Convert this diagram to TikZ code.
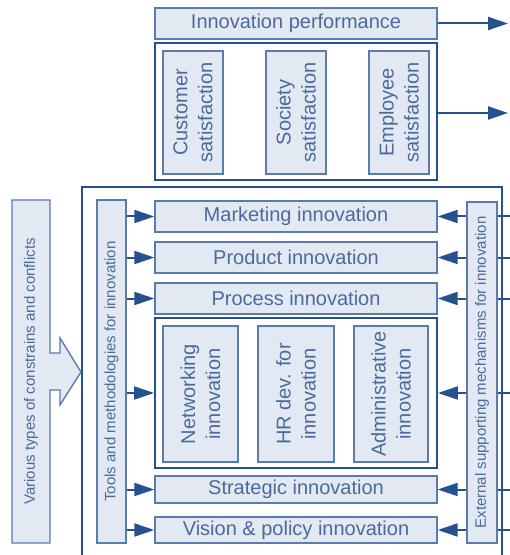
\documentclass[tikz,border=0pt]{standalone}
\usepackage{fontspec}
\setmainfont{Liberation Sans}
\usetikzlibrary{arrows.meta}
\definecolor{boxfill}{HTML}{E3E9F2}
\definecolor{boxline}{HTML}{5A7BAC}
\definecolor{boxtext}{HTML}{4A6A9B}
\definecolor{darkblue}{HTML}{23528F}
\tikzset{
    box/.style={draw=boxline, line width=0.7pt, fill=boxfill, text=boxtext, inner sep=0pt, font=\fontsize{10}{12.5}\selectfont},
    wide/.style={box, minimum width=141pt, minimum height=15.5pt},
    tall/.style={box, rotate=90, align=center, minimum width=61.5pt, minimum height=30pt},
    side/.style={box, rotate=90, font=\fontsize{7.5}{9}\selectfont},
    group/.style={draw=darkblue, line width=0.9pt, inner sep=0pt, minimum width=141pt},
    arrow/.style={-{Triangle[length=10pt,width=6.5pt]}, line width=1pt, darkblue},
    frame/.style={line width=1pt, darkblue}
}
\begin{document}
\begin{tikzpicture}[x=0.5pt, y=-0.5pt]
\useasboundingbox (0,0) rectangle (509,555);

% Performance part
\node[wide] (perf) at (296,23.5) {Innovation performance};
\node[group, minimum height=68.5pt] (satbox) at (296,111.5) {};
\node[tall] (cust) at (193,112.5) {Customer\\satisfaction};
\node[tall] (soc) at (296,112.5) {Society\\satisfaction};
\node[tall] (emp) at (399,112.5) {Employee\\satisfaction};
\coordinate (perfout) at (508,23.5);
\coordinate (satout) at (508,113);
\draw[arrow] (perf.east) -- (perfout);
\draw[arrow] (satbox.east |- satout) -- (satout);

% Frame
\coordinate (fbl) at (82,555);
\coordinate (ftl) at (82,187);
\coordinate (ftr) at (502,187);
\coordinate (fbr) at (502,555);
\draw[frame] (fbl) -- (ftl) -- (ftr) -- (fbr);

% Constraints arrow
\draw[box] (12,200) -- (50,200) -- (50,353) -- (60,353) -- (60,338) -- (81,372)
    -- (60,405) -- (60,390) -- (50,390) -- (50,543) -- (12,543) -- cycle;
\node[rotate=90, text=boxtext, font=\fontsize{7.5}{9}\selectfont] (constr) at (31,371.5) {Various types of constrains and conflicts};

% Side bars
\node[side, minimum width=171.5pt, minimum height=14.5pt] (tools) at (111.5,371.5) {Tools and methodologies for innovation};
\node[side, minimum width=170.5pt, minimum height=15pt] (ext) at (482,372.5) {External supporting mechanisms for innovation};

% Innovation types
\node[wide] (mkt) at (296,216.5) {Marketing innovation};
\node[wide] (prod) at (296,257.5) {Product innovation};
\node[wide] (proc) at (296,298.5) {Process innovation};
\node[group, minimum height=75pt] (mid) at (296,393) {};
\node[tall, minimum width=68pt, minimum height=37.5pt] (net) at (200.5,394) {Networking\\innovation};
\node[tall, minimum width=68pt, minimum height=38pt] (hr) at (296,394) {HR dev. for\\innovation};
\node[tall, minimum width=68pt, minimum height=37pt] (adm) at (391,394) {Administrative\\innovation};
\node[wide, minimum height=13.5pt] (strat) at (296,489.5) {Strategic innovation};
\node[wide, minimum height=13pt] (vis) at (296,530) {Vision \& policy innovation};

% Arrows in and out
\foreach \n in {mkt,prod,proc,mid,strat,vis}{
    \draw[arrow] (tools.south |- \n) -- (\n.west);
    \draw[arrow] (ext.north |- \n) -- (\n.east);
    \draw[frame] (ext.south |- \n) -- ++(12,0);
}
\end{tikzpicture}
\end{document}
